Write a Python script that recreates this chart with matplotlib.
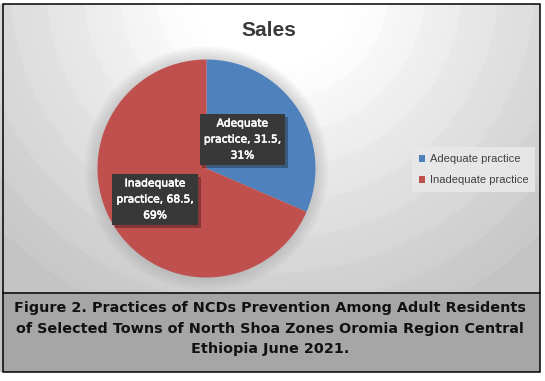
import numpy as np
import matplotlib
matplotlib.use("Agg")
import matplotlib.pyplot as plt
from matplotlib.patches import Rectangle, Circle
import matplotlib.patheffects as pe

# data
labels = ["Adequate practice", "Inadequate practice"]
values = [31.5, 68.5]
percents = ["31%", "69%"]
colors = ["#4f81bd", "#c0504d"]
title = "Sales"
caption = ("Figure 2. Practices of NCDs Prevention Among Adult Residents\n"
           "of Selected Towns of North Shoa Zones Oromia Region Central\n"
           "Ethiopia June 2021.")

W, H = 545, 381
fig = plt.figure(figsize=(W / 100, H / 100), dpi=100)

# background axes in pixel units
bg = fig.add_axes([0, 0, 1, 1])
bg.set_xlim(0, W)
bg.set_ylim(H, 0)
bg.axis("off")

# radial gradient with soft rings
yy, xx = np.mgrid[0:H, 0:W]
d = np.hypot(xx - 272, (yy + 10) / 0.95)
t = np.clip((d - 80) / 290, 0, 1)
band = np.floor(t * 8) / 8
v = 1 - 0.23 * (0.5 * t + 0.5 * band)
img = np.clip(np.dstack([v, v, v * 1.006]), 0, 1)
bg.imshow(img, extent=[0, W, H, 0], aspect="auto", zorder=0)

# caption area and frame
bg.add_patch(Rectangle((2.5, 293), 537, 78.5, fc="#a6a6a6", ec="none", zorder=1))
bg.add_patch(Rectangle((0, 371.5), W, 10, fc="white", ec="none", zorder=1))
bg.add_patch(Rectangle((539.5, 0), 6, H, fc="white", ec="none", zorder=1))
bg.add_patch(Rectangle((0, 0), W, 4, fc="white", ec="none", zorder=1))
bg.add_patch(Rectangle((2.5, 4), 537, 367.5, fc="none", ec="black", lw=1.1, zorder=3))
bg.plot([2.5, 539.5], [293, 293], color="black", lw=1.1, zorder=3)
bg.text(270, 328.5, caption, ha="center", va="center", fontsize=10.4,
        fontweight="bold", family="DejaVu Sans", color="#111111",
        linespacing=1.62, zorder=4)

bg.text(269, 30, title, ha="center", va="center", fontsize=15,
        fontweight="bold", family="Liberation Sans", color="#3a3a3a", zorder=4)

# pie axes
cx, cy, r = 206.5, 168.5, 109
ax = fig.add_axes([(cx - r) / W, (H - cy - r) / H, 2 * r / W, 2 * r / H])

for k in range(7):
    ax.add_patch(Circle((0, 0), 1.0 + 0.017 * (k + 1), fc="#9a9a9a",
                        alpha=0.06, ec="none", zorder=0, clip_on=False))

wedges, _ = ax.pie(values, colors=colors, startangle=90, counterclock=False,
                   radius=1, wedgeprops=dict(linewidth=0))
ax.set_xlim(-1, 1)
ax.set_ylim(-1, 1)
ax.axis("off")

label_pos = [(0.33, 0.266), (-0.472, -0.284)]
for (x, y), lab, val, pct in zip(label_pos, labels, values, percents):
    name, word = lab.split(" ")
    txt = f"{name}\n{word}, {val},\n{pct}"
    t_ = ax.text(x, y, txt, ha="center", va="center", fontsize=7.7,
                 family="DejaVu Sans", color="white",
                 linespacing=1.75, zorder=5,
                 bbox=dict(boxstyle="square,pad=0.4", fc="#383838", ec="none"))
    t_.set_path_effects([pe.withStroke(linewidth=0.4, foreground="white")])
    t_.get_bbox_patch().set_path_effects(
        [pe.SimplePatchShadow(offset=(2, -2), shadow_rgbFace="black", alpha=0.3), pe.Normal()])

leg = ax.legend(wedges, labels, loc="center left",
                bbox_to_anchor=(412 / W, 1 - 169.5 / H), bbox_transform=fig.transFigure,
                frameon=True, fancybox=False, handlelength=0.6,
                handleheight=0.6, handletextpad=0.4, labelspacing=1.0,
                borderpad=0.6, borderaxespad=0,
                prop=dict(family="Liberation Sans", size=8))
leg.get_frame().set_facecolor("#e8e8e8")
leg.get_frame().set_edgecolor("none")
leg.get_frame().set_alpha(0.9)
for t_ in leg.get_texts():
    t_.set_color("#404040")

fig.savefig("out.png", dpi=100)
